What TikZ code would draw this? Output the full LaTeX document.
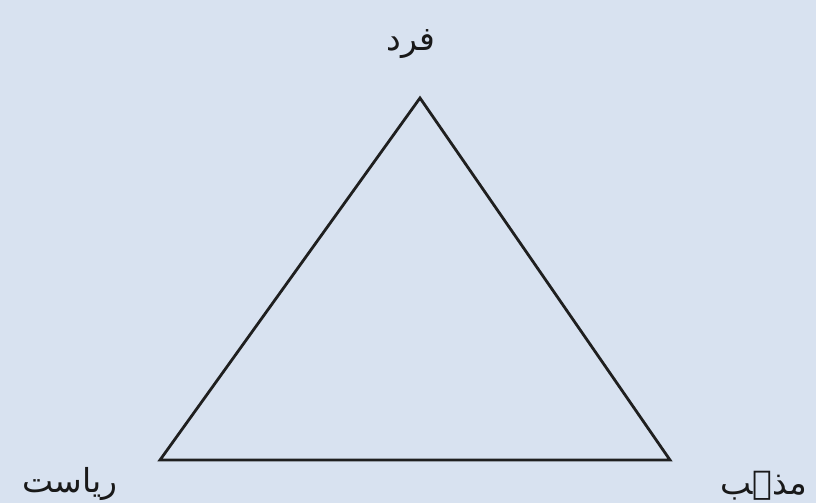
\documentclass[tikz,border=0pt]{standalone}
\usepackage{fontspec}
\newfontfamily\arabicfont[Script=Arabic]{DejaVu Sans}
\TeXXeTstate=1
\begin{document}
\begin{tikzpicture}[x=1pt,y=-1pt,
  lbl/.style={font=\arabicfont\fontsize{33}{38}\selectfont, text=black!90, inner sep=0pt},
  edge/.style={draw=black!88, line width=2.8pt, line join=miter}]
\fill[fill={rgb,255:red,216;green,226;blue,240}] (0,0) rectangle (816,503);
\useasboundingbox (0,0) rectangle (816,503);
\coordinate (t) at (420,98);
\coordinate (l) at (160,460);
\coordinate (r) at (670,460);
\draw[edge] (t) -- (l) -- (r) -- cycle;
\node[lbl] (ft) at (411,44) {\beginR فرد\endR};
\node[lbl] (fl) at (70,484) {\beginR ریاست\endR};
\node[lbl] (fr) at (764,486) {\beginR مذہب\endR};
\end{tikzpicture}
\end{document}
